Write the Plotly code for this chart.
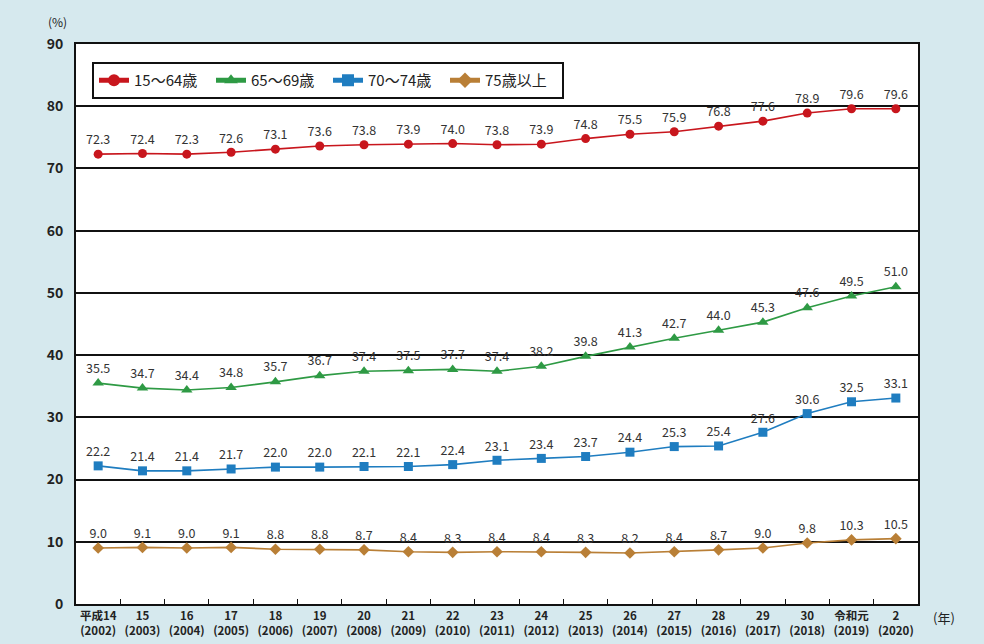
import plotly.graph_objects as go

era_labels = ["平成14", "15", "16", "17", "18", "19", "20", "21", "22", "23", "24",
              "25", "26", "27", "28", "29", "30", "令和元", "2"]
years = [str(y) for y in range(2002, 2021)]

s15_64 = [72.3, 72.4, 72.3, 72.6, 73.1, 73.6, 73.8, 73.9, 74.0, 73.8, 73.9, 74.8, 75.5, 75.9, 76.8, 77.6, 78.9, 79.6, 79.6]
s65_69 = [35.5, 34.7, 34.4, 34.8, 35.7, 36.7, 37.4, 37.5, 37.7, 37.4, 38.2, 39.8, 41.3, 42.7, 44.0, 45.3, 47.6, 49.5, 51.0]
s70_74 = [22.2, 21.4, 21.4, 21.7, 22.0, 22.0, 22.1, 22.1, 22.4, 23.1, 23.4, 23.7, 24.4, 25.3, 25.4, 27.6, 30.6, 32.5, 33.1]
s75 = [9.0, 9.1, 9.0, 9.1, 8.8, 8.8, 8.7, 8.4, 8.3, 8.4, 8.4, 8.3, 8.2, 8.4, 8.7, 9.0, 9.8, 10.3, 10.5]

series_names = ["15～64歳", "65～69歳", "70～74歳", "75歳以上"]
series_values = [s15_64, s65_69, s70_74, s75]
colors = ["#c8161d", "#2e9a44", "#1f7dc0", "#b97f36"]
symbols = ["circle", "triangle-up", "square", "diamond"]

xcats = [f"{e}<br>({y})" for e, y in zip(era_labels, years)]
font_family = "Noto Sans CJK JP, Liberation Sans, Arial, sans-serif"

fig = go.Figure()
for name, vals, c, sym in zip(series_names, series_values, colors, symbols):
    fig.add_trace(go.Scatter(
        x=xcats, y=vals, name=name,
        mode="lines+markers+text",
        line=dict(color=c, width=1.6),
        marker=dict(color=c, symbol=sym, size=9 if sym != "triangle-up" else 10),
        text=[f"{v:.1f}" for v in vals],
        textposition="top center",
        textfont=dict(size=12.5, color="#333333", family=font_family),
        cliponaxis=False,
    ))

W, H = 984, 644
L, R, T, B = 76, 66, 44, 40
pw, ph = W - L - R, H - T - B

fig.update_layout(
    width=W, height=H,
    margin=dict(l=L, r=R, t=T, b=B),
    paper_bgcolor="#d6e9ee",
    plot_bgcolor="#ffffff",
    font=dict(family=font_family, color="#222222"),
    showlegend=True,
    legend=dict(
        orientation="h", x=(92 - L) / pw, y=(H - B - 62) / ph, xanchor="left", yanchor="top",
        bgcolor="#ffffff", bordercolor="#111111", borderwidth=2,
        font=dict(size=15, color="#222222", family=font_family),
        itemsizing="constant", entrywidth=72,
    ),
    xaxis=dict(
        type="category", range=[-0.5, 18.5],
        showgrid=False, showline=True, linecolor="#111111", linewidth=2, mirror=True,
        ticks="inside", tickson="boundaries", ticklen=5, tickcolor="#111111",
        tickangle=0,
        tickfont=dict(size=11.5, color="#222222", family=font_family, weight="bold"),
        automargin=False,
    ),
    yaxis=dict(
        range=[0, 90], dtick=10,
        showgrid=True, gridcolor="#111111", gridwidth=1.5,
        showline=True, linecolor="#111111", linewidth=2, mirror=True,
        zeroline=False, ticks="",
        tickfont=dict(size=14, color="#222222", family=font_family, weight="bold"),
        ticklabelstandoff=8,
        automargin=False,
    ),
    annotations=[
        dict(text="(%)", x=(57 - L) / pw, y=(H - B - 22) / ph, xref="paper", yref="paper",
             showarrow=False, xanchor="center", yanchor="middle",
             font=dict(size=12, color="#222222")),
        dict(text="(年)", x=(944 - L) / pw, y=(H - B - 617) / ph, xref="paper", yref="paper",
             showarrow=False, xanchor="center", yanchor="middle",
             font=dict(size=13, color="#222222")),
    ],
)

fig.write_html("out.html", config={"displayModeBar": False},
               post_script="document.body.style.margin='0';")
